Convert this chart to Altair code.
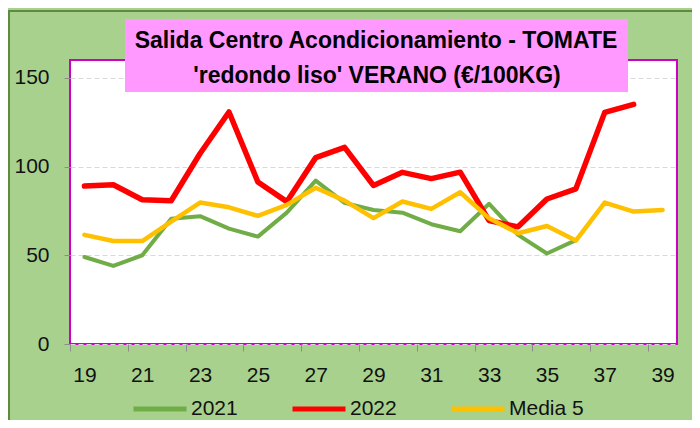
import altair as alt
import pandas as pd

weeks = list(range(19, 40))
series = ["2021", "2022", "Media 5"]
colors = ["#70AD47", "#FF0000", "#FFC000"]

v2021 = [49, 44, 50, 70.5, 72, 65, 60.5, 74, 92, 79.5, 75.5, 74, 67.5, 63.5, 79, 61.5, 51, 58.5]
v2022 = [89, 89.7, 81.3, 80.7, 107.3, 130.7, 91.3, 80.2, 105, 110.8, 89.3, 96.7, 93.2, 96.8,
         69.5, 66, 81.7, 87.4, 130.5, 135]
media5 = [61.5, 58, 58, 69, 79.7, 77, 72.2, 78.4, 88, 80.8, 70.9, 80.3, 76.1, 85.5, 70.8,
          62.4, 66.5, 58.3, 79.7, 74.6, 75.5]

y_ticks = [0, 50, 100, 150]
x_labels = list(range(19, 40, 2))
x_ticks = [w - 0.5 for w in range(19, 40, 2)]

title_lines = ["Salida Centro Acondicionamiento - TOMATE", "'redondo liso' VERANO (€/100KG)"]

FONT = "Liberation Sans"

def frame(vals, name):
    return pd.DataFrame({"semana": weeks[:len(vals)], "valor": vals, "serie": name})

x_enc = alt.X(
    "semana:Q",
    scale=alt.Scale(domain=[18.5, 39.5], nice=False, zero=False),
    axis=alt.Axis(
        values=sorted(x_labels + x_ticks),
        labelExpr="datum.value % 2 == 1 ? datum.label : ''",
        tickOpacity={"condition": {"test": "datum.value % 1 == 0", "value": 0}, "value": 1},
        title=None, grid=False, domain=False, tickSize=7, tickColor="#8C8C8C",
        labelFont=FONT, labelFontSize=21, labelColor="#111111", labelPadding=13,
        labelOverlap=False, labelFlush=False, labelBound=False,
    ),
)
y_enc = alt.Y(
    "valor:Q",
    scale=alt.Scale(domain=[0, 160], nice=False),
    axis=alt.Axis(
        values=y_ticks, title=None, domain=False, tickSize=6, tickColor="#8C8C8C",
        grid=True, gridColor="#D9D9D9", gridDash=[5, 3], gridWidth=1,
        labelFont=FONT, labelFontSize=21, labelColor="#111111", labelPadding=15,
    ),
)
color_enc = alt.Color(
    "serie:N",
    scale=alt.Scale(domain=series, range=colors),
    legend=alt.Legend(
        title=None, orient="none", legendX=61, legendY=320, direction="horizontal",
        symbolType="stroke", symbolSize=2809, symbolStrokeWidth=5,
        labelFont=FONT, labelFontSize=21, labelColor="#111111", labelOffset=2,
        columnPadding=44, padding=0,
    ),
)

def line(vals, name, width):
    return alt.Chart(frame(vals, name)).mark_line(
        strokeWidth=width, strokeCap="round", strokeJoin="round"
    ).encode(x=x_enc, y=y_enc, color=color_enc)

one = pd.DataFrame({"k": [0]})

border = alt.Chart(one).mark_rect(
    fill="transparent", stroke="#5E8B3F", strokeWidth=2
).encode(x=alt.value(-61), x2=alt.value(700), y=alt.value(-49), y2=alt.value(500))

box = alt.Chart(one).mark_rect(fill="#FF99FF").encode(
    x=alt.value(55), x2=alt.value(558), y=alt.value(-41), y2=alt.value(32)
)
t1 = alt.Chart(one).mark_text(
    font=FONT, fontSize=23, fontWeight="bold", color="#000000", align="center", baseline="alphabetic"
).encode(x=alt.value(306), y=alt.value(-12), text=alt.value(title_lines[0]))
t2 = alt.Chart(one).mark_text(
    font=FONT, fontSize=23, fontWeight="bold", color="#000000", align="center", baseline="alphabetic"
).encode(x=alt.value(307), y=alt.value(23), text=alt.value(title_lines[1]))

chart = alt.layer(
    border,
    line(v2021, "2021", 4),
    line(v2022, "2022", 5.5),
    line(media5, "Media 5", 4.5),
    box, t1, t2,
).properties(
    width=607, height=284,
    autosize=alt.AutoSizeParams(type="none"),
    padding={"left": 62, "top": 52, "right": 15, "bottom": 76},
    background="#A9D18E",
).configure_view(
    fill="white", stroke="#CC00CC", strokeWidth=2
)

chart.save("out.html", embed_options={"renderer": "svg", "actions": False})
